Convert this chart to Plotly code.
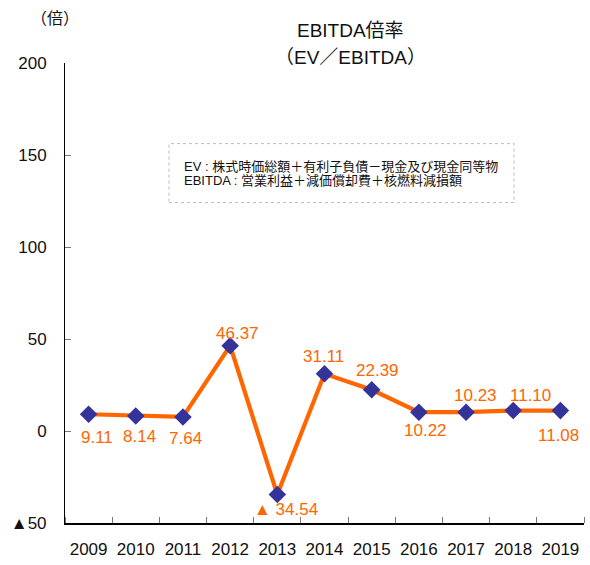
import plotly.graph_objects as go

years = ["2009", "2010", "2011", "2012", "2013", "2014", "2015", "2016", "2017", "2018", "2019"]
ratio = [9.11, 8.14, 7.64, 46.37, -34.54, 31.11, 22.39, 10.22, 10.23, 11.10, 11.08]
ytick_vals = [-50, 0, 50, 100, 150, 200]
ytick_text = ["▲50", "0", "50", "100", "150", "200"]
title_lines = ["EBITDA倍率", "（EV／EBITDA）"]
unit_label = "（倍）"
note_lines = ["EV : 株式時価総額＋有利子負債－現金及び現金同等物",
              "EBITDA : 営業利益＋減価償却費＋核燃料減損額"]

# label offsets in pixels (style)
label_dx = [8, 4, 3, 7, 9, -1, 6, 7, 9, 17, -2]
label_dy = [-23, -20, -22, 12, -15, 17, 19, -18, 17, 15, -25]

FONT = "Liberation Sans, Arial, Noto Sans CJK JP, sans-serif"
ORANGE = "#FF6600"
NAVY = "#333399"

def fmt(v):
    return ("▲ " + f"{abs(v):.2f}") if v < 0 else f"{v:.2f}"

idx = list(range(len(years)))

fig = go.Figure()
fig.add_trace(go.Scatter(
    x=idx, y=ratio, mode="lines+markers",
    line=dict(color=ORANGE, width=4.2),
    marker=dict(symbol="diamond", size=13.5, color=NAVY),
    hoverinfo="skip", showlegend=False,
))

annotations = []
for i, v, dx, dy in zip(idx, ratio, label_dx, label_dy):
    annotations.append(dict(
        x=i, y=v, xref="x", yref="y", text=fmt(v), showarrow=False,
        xshift=dx, yshift=dy, xanchor="center", yanchor="middle",
        font=dict(family=FONT, size=17, color=ORANGE),
    ))

L, R, T, B = 65, 6, 63, 34
W, H = 590, 565
pw, ph = W - L - R, H - T - B

def px(xp):
    return (xp - L) / pw

def py(yp):
    return (H - B - yp) / ph

annotations.append(dict(x=px(350), y=py(30), xref="paper", yref="paper",
                        text=title_lines[0], showarrow=False, xanchor="center", yanchor="middle",
                        font=dict(family=FONT, size=19, color="#111111")))
annotations.append(dict(x=px(350), y=py(57), xref="paper", yref="paper",
                        text=title_lines[1], showarrow=False, xanchor="center", yanchor="middle",
                        font=dict(family=FONT, size=19, color="#111111")))
annotations.append(dict(x=px(55), y=py(18), xref="paper", yref="paper",
                        text=unit_label, showarrow=False, xanchor="center", yanchor="middle",
                        font=dict(family=FONT, size=16, color="#111111")))
annotations.append(dict(x=px(182), y=py(168), xref="paper", yref="paper",
                        text=note_lines[0], showarrow=False, xanchor="left", yanchor="middle",
                        font=dict(family=FONT, size=13, color="#111111")))
annotations.append(dict(x=px(182), y=py(182.5), xref="paper", yref="paper",
                        text=note_lines[1], showarrow=False, xanchor="left", yanchor="middle",
                        font=dict(family=FONT, size=13, color="#111111")))

fig.add_shape(type="rect", xref="paper", yref="paper",
              x0=px(169), x1=px(514), y0=py(205), y1=py(145),
              line=dict(color="#BBBBBB", width=1, dash="dot"), fillcolor="rgba(0,0,0,0)")

fig.update_layout(
    width=W, height=H,
    margin=dict(l=L, r=R, t=T, b=B, pad=0),
    paper_bgcolor="white", plot_bgcolor="white",
    font=dict(family=FONT, size=17, color="#111111"),
    annotations=annotations,
    xaxis=dict(
        range=[-0.5, 10.5], showgrid=False, zeroline=False,
        showline=True, linecolor="black", linewidth=1.5,
        tickmode="array", tickvals=idx, ticktext=years,
        ticks="", tickfont=dict(family=FONT, size=17, color="#111111"),
        ticklabelstandoff=10, fixedrange=True,
        minor=dict(tickmode="array", tickvals=[i - 0.5 for i in idx] + [len(idx) - 0.5],
                   ticks="inside", ticklen=6, tickcolor="#777777", tickwidth=1, showgrid=False),
    ),
    yaxis=dict(
        range=[-50, 200], showgrid=False, zeroline=False,
        showline=True, linecolor="black", linewidth=1,
        tickvals=ytick_vals, ticktext=ytick_text,
        ticks="inside", ticklen=6, tickcolor="#777777", tickwidth=1,
        tickfont=dict(family=FONT, size=17, color="#111111"),
        ticklabelstandoff=14, fixedrange=True,
    ),
)

fig.write_html("out.html", config={"displayModeBar": False},
               post_script="document.body.style.margin='0';document.body.style.overflow='hidden';")
